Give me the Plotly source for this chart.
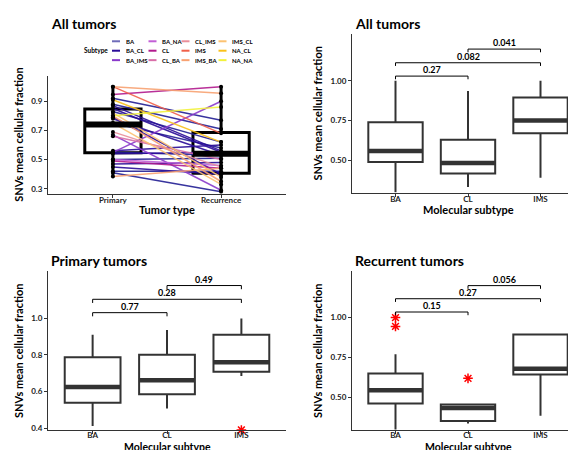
import plotly.graph_objects as go

FONT = "Lato"
DARK = "#333333"

# ---------------- Panel 1 data (paired Primary -> Recurrence) ----------------
tumor_types = ["Primary", "Recurrence"]
subtypes = ["BA", "BA_CL", "BA_IMS", "BA_NA", "CL", "CL_BA",
            "CL_IMS", "IMS", "IMS_BA", "IMS_CL", "NA_CL", "NA_NA"]
subtype_colors = ["#231f94", "#2a0c98", "#8a3acb", "#c25fd6", "#b21a8e", "#d96fa8",
                  "#e98f9b", "#f0604a", "#f8a272", "#fcc271", "#f9c11b", "#f2f23c"]
legend_opacity = [0.65, 1, 1, 1, 1, 1, 1, 1, 1, 1, 1, 1]

pair_subtype = ["BA", "BA", "BA_CL", "BA_CL", "BA_CL", "BA", "BA_CL", "BA", "BA_CL",
                "BA", "BA_CL", "BA", "BA", "BA_CL",
                "BA_IMS", "BA_IMS", "BA_NA", "CL", "CL", "CL_BA", "CL_IMS",
                "IMS", "BA", "IMS_BA", "IMS_BA", "IMS_BA", "IMS_CL", "IMS_CL",
                "NA_CL", "BA_CL", "NA_NA"]
primary_vals = [0.92, 0.88, 0.87, 0.85, 0.78, 0.75, 0.56, 0.55, 0.54,
                0.50, 0.47, 0.42, 0.41, 0.45,
                0.55, 0.67, 0.50, 0.946, 0.49, 0.66, 0.69,
                1.00, 0.83, 1.00, 0.80, 0.385, 0.82, 0.75,
                0.91, 0.79, 0.80]
recurrence_vals = [0.77, 0.71, 0.56, 0.55, 0.53, 0.58, 0.60, 0.53, 0.55,
                   0.51, 0.48, 0.42, 0.28, 0.40,
                   0.90, 0.29, 0.46, 1.00, 0.44, 0.50, 0.45,
                   0.68, 0.62, 0.955, 0.35, 0.44, 0.38, 0.33,
                   0.62, 0.40, 0.86]

p1_q1 = [0.547, 0.407]
p1_med = [0.740, 0.540]
p1_q3 = [0.846, 0.686]
p1_lo = [0.385, 0.280]
p1_hi = [1.000, 1.000]

# ---------------- Panels 2-4 data (by molecular subtype) ----------------
mol_subtypes = ["BA", "CL", "IMS"]

all_q1 = [0.489, 0.417, 0.670]
all_med = [0.558, 0.483, 0.750]
all_q3 = [0.739, 0.629, 0.896]
all_lo = [0.300, 0.333, 0.390]
all_hi = [1.000, 0.937, 1.000]
all_pairs = [("BA", "CL"), ("BA", "IMS"), ("CL", "IMS")]
all_pvals = ["0.27", "0.082", "0.041"]
all_bracket_y = [1.030, 1.114, 1.200]

pri_q1 = [0.538, 0.585, 0.708]
pri_med = [0.625, 0.661, 0.760]
pri_q3 = [0.787, 0.800, 0.910]
pri_lo = [0.412, 0.507, 0.684]
pri_hi = [0.910, 0.935, 0.998]
pri_out_x = ["IMS"]
pri_out_y = [0.390]
pri_pvals = ["0.77", "0.28", "0.49"]
pri_bracket_y = [1.030, 1.103, 1.178]

rec_q1 = [0.462, 0.354, 0.644]
rec_med = [0.545, 0.435, 0.680]
rec_q3 = [0.650, 0.456, 0.895]
rec_lo = [0.300, 0.337, 0.386]
rec_hi = [0.771, 0.456, 0.900]
rec_out_x = ["BA", "BA", "CL"]
rec_out_y = [1.000, 0.945, 0.620]
rec_pvals = ["0.15", "0.27", "0.056"]
rec_bracket_y = [1.035, 1.118, 1.200]

fig = go.Figure()

# ---------------- Panel 1 ----------------
for st, col in zip(subtypes, subtype_colors):
    xs, ys = [], []
    for s, p, r in zip(pair_subtype, primary_vals, recurrence_vals):
        if s == st:
            xs += [1, 2, None]
            ys += [p, r, None]
    if xs:
        fig.add_trace(go.Scatter(x=xs, y=ys, mode="lines", line=dict(color=col, width=1.5),
                                 opacity=0.9, showlegend=False, hoverinfo="skip",
                                 xaxis="x", yaxis="y"))

fig.add_trace(go.Scatter(x=[1] * len(primary_vals) + [2] * len(recurrence_vals),
                         y=primary_vals + recurrence_vals, mode="markers",
                         marker=dict(color="black", size=4), showlegend=False,
                         xaxis="x", yaxis="y"))

fig.add_trace(go.Box(x=[1, 2], q1=p1_q1, median=p1_med, q3=p1_q3, lowerfence=p1_lo,
                     upperfence=p1_hi, width=0.52, whiskerwidth=0,
                     line=dict(color="black", width=3), fillcolor="rgba(0,0,0,0)",
                     boxpoints=False, showlegend=False, xaxis="x", yaxis="y"))
mx, my = [], []
for i, m in enumerate(p1_med):
    mx += [i + 1 - 0.26, i + 1 + 0.26, None]
    my += [m, m, None]
fig.add_trace(go.Scatter(x=mx, y=my, mode="lines", line=dict(color="black", width=6),
                         showlegend=False, xaxis="x", yaxis="y"))


# ---------------- Panels 2-4 ----------------
def add_box_panel(ax, q1, med, q3, lo, hi, pvals, bys, out_x=None, out_y=None):
    xa = "x" + ax
    ya = "y" + ax
    pos = list(range(1, len(mol_subtypes) + 1))
    fig.add_trace(go.Box(x=pos, q1=q1, median=med, q3=q3, lowerfence=lo, upperfence=hi,
                         width=0.75, whiskerwidth=0, line=dict(color=DARK, width=2),
                         fillcolor="rgba(0,0,0,0)", boxpoints=False, showlegend=False,
                         xaxis=xa, yaxis=ya))
    mx, my = [], []
    for i, m in enumerate(med):
        mx += [pos[i] - 0.375, pos[i] + 0.375, None]
        my += [m, m, None]
    fig.add_trace(go.Scatter(x=mx, y=my, mode="lines", line=dict(color=DARK, width=4.5),
                             showlegend=False, xaxis=xa, yaxis=ya))
    if out_x:
        fig.add_trace(go.Scatter(x=[mol_subtypes.index(c) + 1 for c in out_x], y=out_y,
                                 mode="markers", cliponaxis=False,
                                 marker=dict(symbol="asterisk-open", size=8, color="red",
                                             line=dict(color="red", width=1.5)),
                                 showlegend=False, xaxis=xa, yaxis=ya))
    tip = 0.02
    for (a, b), pv, by in zip(all_pairs, pvals, bys):
        xa1 = mol_subtypes.index(a) + 1
        xb1 = mol_subtypes.index(b) + 1
        fig.add_trace(go.Scatter(x=[xa1, xa1, xb1, xb1], y=[by - tip, by, by, by - tip],
                                 mode="lines", line=dict(color="black", width=1),
                                 showlegend=False, xaxis=xa, yaxis=ya))
        fig.add_annotation(x=(xa1 + xb1) / 2, y=by, xref=xa, yref=ya, text=pv,
                           showarrow=False, yanchor="bottom", yshift=-1,
                           font=dict(family=FONT, size=9, color="black", weight="bold"))


add_box_panel("2", all_q1, all_med, all_q3, all_lo, all_hi, all_pvals, all_bracket_y)
add_box_panel("3", pri_q1, pri_med, pri_q3, pri_lo, pri_hi, pri_pvals, pri_bracket_y,
              pri_out_x, pri_out_y)
add_box_panel("4", rec_q1, rec_med, rec_q3, rec_lo, rec_hi, rec_pvals, rec_bracket_y,
              rec_out_x, rec_out_y)

# ---------------- Axes ----------------
tickfont = dict(family=FONT, size=8, color="#222222", weight="bold")
titlefont = dict(family=FONT, size=11, color="black", weight="bold")


def xax(domain, tickvals, ticktext, rng, anchor, standoff=-4):
    return dict(domain=domain, range=rng, tickvals=tickvals, ticktext=ticktext,
                showline=True, linecolor=DARK, linewidth=1, ticks="outside", ticklen=3,
                tickcolor=DARK, showgrid=False, zeroline=False, tickfont=tickfont,
                ticklabelstandoff=standoff, anchor=anchor)


def yax(domain, rng, tickvals, ticktext, anchor):
    return dict(domain=domain, range=rng, tickvals=tickvals, ticktext=ticktext,
                showline=True, linecolor=DARK, linewidth=1, ticks="outside", ticklen=3,
                tickcolor=DARK, showgrid=False, zeroline=False, tickfont=tickfont,
                anchor=anchor,
                title=dict(text="SNVs mean cellular fraction", font=titlefont, standoff=5))


L1 = [40 / 576, 278 / 576]
L2 = [344 / 576, 1.0]
mol_pos = list(range(1, len(mol_subtypes) + 1))

fig.update_layout(
    width=576, height=450, margin=dict(l=0, r=0, t=0, b=0),
    paper_bgcolor="white", plot_bgcolor="white",
    font=dict(family=FONT, color="black"),
    xaxis=xax(L1, [1, 2], tumor_types, [0.4, 2.6], "y"),
    yaxis=yax([1 - 187 / 450, 1 - 68 / 450], [0.266, 1.076], [0.3, 0.5, 0.7, 0.9],
              ["0.3", "0.5", "0.7", "0.9"], "x"),
    xaxis2=xax(L2, mol_pos, mol_subtypes, [0.4, 3.6], "y2"),
    yaxis2=yax([1 - 186 / 450, 1 - 26 / 450], [0.296, 1.296], [0.5, 0.75, 1.0],
               ["0.50", "0.75", "1.00"], "x2"),
    xaxis3=xax(L1, mol_pos, mol_subtypes, [0.4, 3.6], "y3", standoff=-6),
    yaxis3=yax([1 - 425 / 450, 1 - 265 / 450], [0.389, 1.256], [0.4, 0.6, 0.8, 1.0],
               ["0.4", "0.6", "0.8", "1.0"], "x3"),
    xaxis4=xax(L2, mol_pos, mol_subtypes, [0.4, 3.6], "y4", standoff=-6),
    yaxis4=yax([1 - 425 / 450, 1 - 265 / 450], [0.296, 1.29], [0.5, 0.75, 1.0],
               ["0.50", "0.75", "1.00"], "x4"),
)

# ---------------- X-axis titles ----------------
x_titles = ["Tumor type", "Molecular subtype", "Molecular subtype", "Molecular subtype"]
x_title_pos = [(159, 203), (460, 203), (159, 441.5), (460, 441.5)]
x_title_size = [11, 11, 10.5, 10.5]
for t, (px, py), sz in zip(x_titles, x_title_pos, x_title_size):
    fig.add_annotation(x=px / 576, y=1 - py / 450, xref="paper", yref="paper", text=t,
                       showarrow=False, xanchor="center", yanchor="middle", borderpad=0,
                       font=dict(family=FONT, size=sz, color="black", weight="bold"))

# ---------------- Titles ----------------
panel_titles = ["All tumors", "All tumors", "Primary tumors", "Recurrent tumors"]
title_pos = [(41, 15.5), (345, 15.5), (41, 254), (345, 254)]
for t, (px, py) in zip(panel_titles, title_pos):
    fig.add_annotation(x=px / 576, y=1 - py / 450, xref="paper", yref="paper", text=t,
                       showarrow=False, xanchor="left", yanchor="middle",
                       font=dict(family=FONT, size=14, color="black", weight="bold"))

# ---------------- Manual legend for Panel 1 ----------------
fig.add_annotation(x=88 / 576, y=1 - 43 / 450, xref="paper", yref="paper", text="Subtype",
                   showarrow=False, xanchor="center", yanchor="middle",
                   font=dict(family=FONT, size=6.5, color="black", weight="bold"))
col_x = [104, 140.5, 173.5, 210.5]
row_y = [33.5, 43, 52.5]
for k, (st, col, op) in enumerate(zip(subtypes, subtype_colors, legend_opacity)):
    c, r = divmod(k, 3)
    x0 = col_x[c]
    y0 = row_y[r]
    fig.add_shape(type="line", xref="paper", yref="paper", x0=x0 / 576, x1=(x0 + 8) / 576,
                  y0=1 - y0 / 450, y1=1 - y0 / 450, opacity=op,
                  line=dict(color=col, width=2))
    fig.add_annotation(x=(x0 + 11.5) / 576, y=1 - y0 / 450, xref="paper", yref="paper",
                       text=st, showarrow=False, xanchor="left", yanchor="middle",
                       font=dict(family=FONT, size=6, color="black", weight="bold"))

fig.write_html("out.html")
